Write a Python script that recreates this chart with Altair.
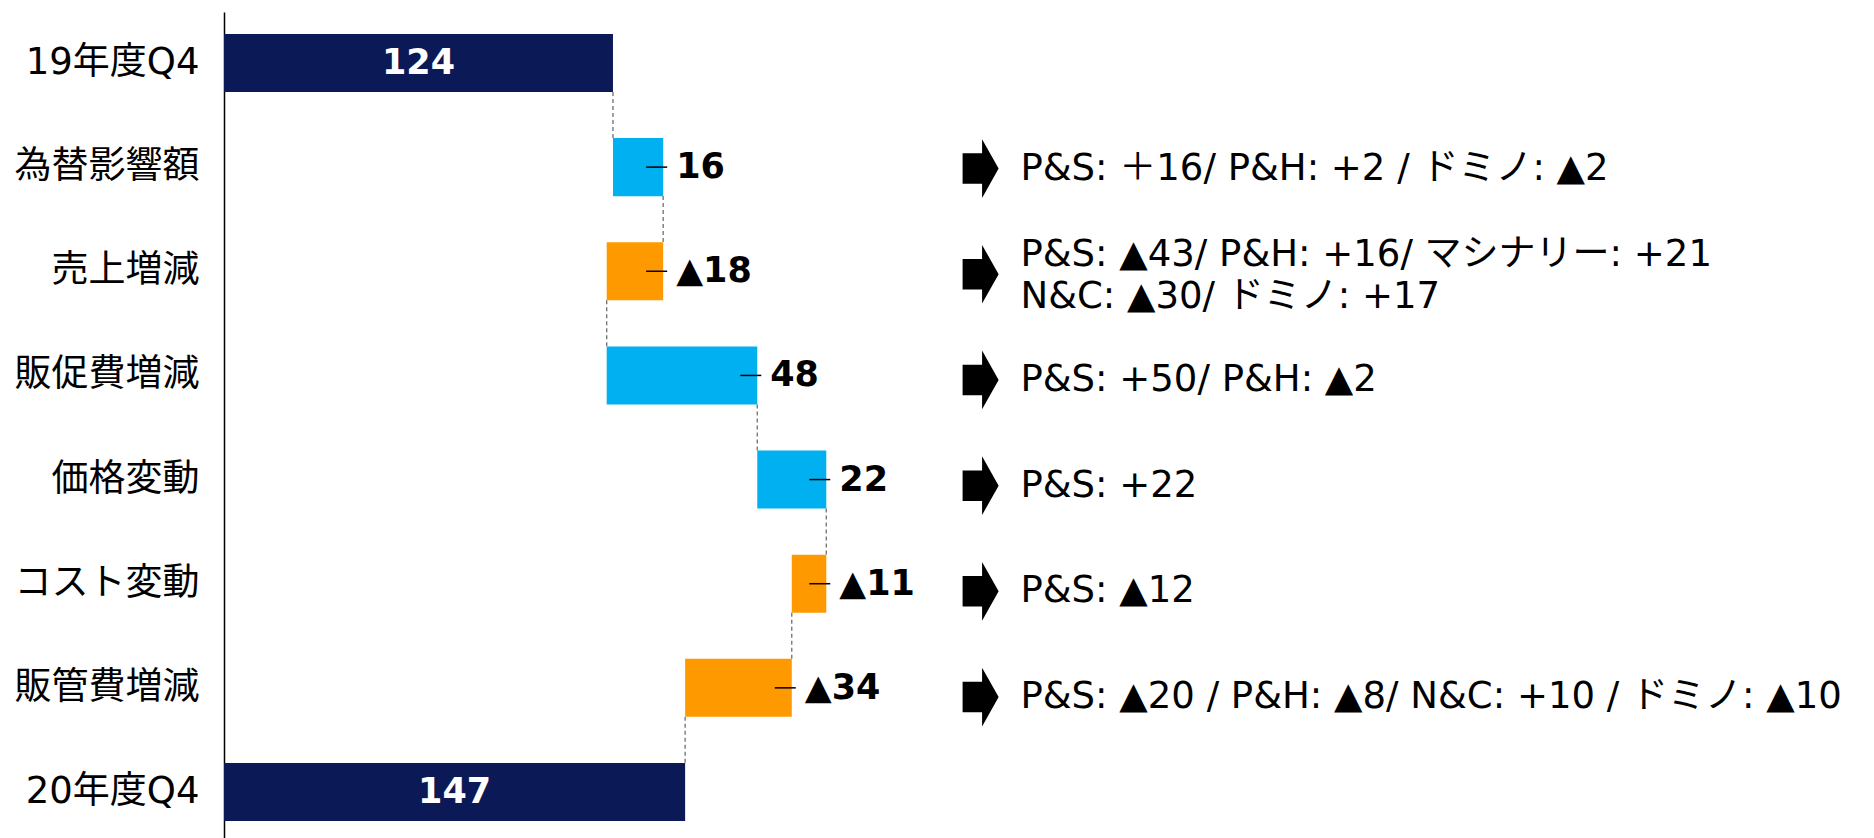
import altair as alt
import pandas as pd

# ---------------- data ----------------
categories = ["19年度Q4", "為替影響額", "売上増減", "販促費増減",
              "価格変動", "コスト変動", "販管費増減", "20年度Q4"]
values = [124, 16, -18, 48, 22, -11, -34, 147]
is_total = [True, False, False, False, False, False, False, True]
value_labels = ["124", "16", "▲18", "48", "22", "▲11", "▲34", "147"]

note_rows = ["為替影響額", "売上増減", "販促費増減", "価格変動", "コスト変動", "販管費増減"]
note_line1 = [
    "P&S: ＋16/ P&H: +2 / ドミノ: ▲2",
    "P&S: ▲43/ P&H: +16/ マシナリー: +21",
    "P&S: +50/ P&H: ▲2",
    "P&S: +22",
    "P&S: ▲12",
    "P&S: ▲20 / P&H: ▲8/ N&C: +10 / ドミノ: ▲10",
]
note_line2 = ["", "N&C: ▲30/ ドミノ: +17", "", "", "", ""]

# ---------------- derived tables ----------------
rows = []
running = 0
for c, v, t, lab in zip(categories, values, is_total, value_labels):
    if t:
        start, end = 0, v
    else:
        start, end = running, running + v
    running = end
    kind = "total" if t else ("up" if v > 0 else "down")
    rows.append(dict(cat=c, start=start, end=end, hi=max(start, end),
                     mid=(start + end) / 2, kind=kind, label=lab))
df = pd.DataFrame(rows)

conn = pd.DataFrame([
    dict(cat=categories[i], nxt=categories[i + 1], x=rows[i]["end"])
    for i in range(len(categories) - 1)
])

notes = pd.DataFrame(dict(cat=note_rows, line1=note_line1, line2=note_line2))

FONT = "'DejaVu Sans', 'Noto Sans CJK JP', sans-serif"
NAVY, BLUE, ORANGE = "#0B1A56", "#00B0F0", "#FF9900"
W, H = 1650, 826

xscale = alt.Scale(domain=[0, 526], nice=False, zero=True)
yscale = alt.Scale(domain=categories, paddingInner=0.443, paddingOuter=0.187, align=0.564)
ann_scale = alt.Scale(type="point", domain=categories, padding=0.4074, align=0.5906)

y_main = alt.Y("cat:N", scale=yscale, title=None,
               axis=alt.Axis(ticks=False, labelFontSize=37, labelPadding=25,
                             labelColor="black", labelFont=FONT,
                             domainColor="black", domainWidth=1.5, labelLimit=400))

bars = alt.Chart(df).mark_bar().encode(
    x=alt.X("start:Q", scale=xscale, axis=None),
    x2="end:Q",
    y=y_main,
    color=alt.Color("kind:N", scale=alt.Scale(domain=["total", "up", "down"],
                                              range=[NAVY, BLUE, ORANGE]), legend=None),
)

connectors = alt.Chart(conn).mark_rule(
    color="#6f6f6f", strokeWidth=1.3, strokeDash=[4, 3], yOffset=29, y2Offset=-29
).encode(
    x=alt.X("x:Q", scale=xscale, axis=None),
    y=alt.Y("cat:N", scale=yscale),
    y2="nxt:N",
)

leaders = alt.Chart(df).transform_filter("datum.kind != 'total'").mark_rule(
    color="black", strokeWidth=1.5, xOffset=-17, x2Offset=4
).encode(
    x=alt.X("hi:Q", scale=xscale, axis=None),
    x2="hi:Q",
    y=alt.Y("cat:N", scale=yscale),
)

delta_labels = alt.Chart(df).transform_filter("datum.kind != 'total'").mark_text(
    align="left", baseline="middle", dx=13, fontSize=35, fontWeight="bold",
    font=FONT, color="black"
).encode(
    x=alt.X("hi:Q", scale=xscale, axis=None),
    y=alt.Y("cat:N", scale=yscale),
    text="label:N",
)

total_labels = alt.Chart(df).transform_filter("datum.kind == 'total'").mark_text(
    align="center", baseline="middle", fontSize=35, fontWeight="bold",
    font=FONT, color="white"
).encode(
    x=alt.X("mid:Q", scale=xscale, axis=None),
    y=alt.Y("cat:N", scale=yscale),
    text="label:N",
)

main = alt.layer(connectors, bars, leaders, delta_labels, total_labels)

ARROW = "M-0.614,-0.52 L0.05,-0.52 L0.05,-1 L0.614,0 L0.05,1 L0.05,0.52 L-0.614,0.52 Z"
ARROW_X = 241.2
TEXT_X = 253.9

y_ann = alt.Y("cat:N", scale=ann_scale, axis=None)

arrows = alt.Chart(notes).mark_point(
    shape=ARROW, size=3446, filled=True, color="black", opacity=1, strokeWidth=0
).encode(x=alt.datum(ARROW_X), y=y_ann)

single = alt.Chart(notes).transform_filter("datum.line2 == ''").mark_text(
    align="left", baseline="middle", fontSize=37, font=FONT, color="black"
).encode(x=alt.datum(TEXT_X), y=y_ann, text="line1:N")

first = alt.Chart(notes).transform_filter("datum.line2 != ''").mark_text(
    align="left", baseline="middle", fontSize=37, font=FONT, color="black", dy=-19
).encode(x=alt.datum(TEXT_X), y=y_ann, text="line1:N")

second = alt.Chart(notes).transform_filter("datum.line2 != ''").mark_text(
    align="left", baseline="middle", fontSize=37, font=FONT, color="black", dy=23
).encode(x=alt.datum(TEXT_X), y=y_ann, text="line2:N")

ann = alt.layer(arrows, single, first, second)

chart = alt.layer(main, ann).resolve_scale(y="independent").properties(
    width=W, height=H,
    autosize=alt.AutoSizeParams(type="none"),
    padding={"left": 224, "top": 12, "right": 0, "bottom": 0},
    background="white",
).configure_view(stroke=None)

chart.save("out.html", embed_options={"renderer": "svg", "actions": False})
